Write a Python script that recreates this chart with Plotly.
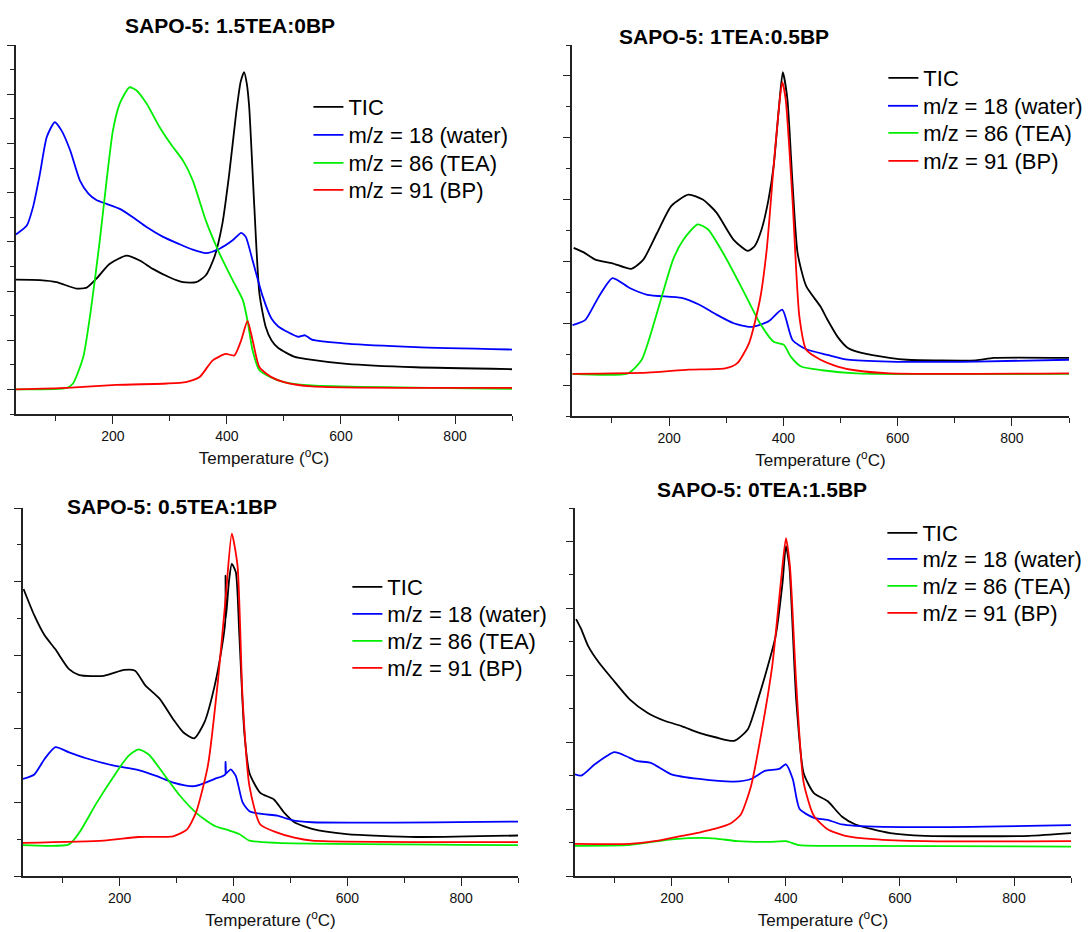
import plotly.graph_objects as go

# ---------------- data (arbitrary intensity units) -------------
series_names = ["TIC", "m/z = 18 (water)", "m/z = 86 (TEA)", "m/z = 91 (BP)"]
titles = ["SAPO-5: 1.5TEA:0BP", "SAPO-5: 1TEA:0.5BP", "SAPO-5: 0.5TEA:1BP", "SAPO-5: 0TEA:1.5BP"]
x_tick_step = 200
x_minor_step = 100
x_title = "Temperature (<sup>o</sup>C)"

# Panel A : 1.5TEA:0BP
a_tic_T = [30, 72, 101, 136, 154, 171, 194, 224, 247, 270, 299, 323, 346, 363, 378, 392, 404, 416, 424, 430, 435, 439, 448, 457, 468, 478, 490, 519, 537, 610, 731, 900]
a_tic_v = [2.23, 2.22, 2.18, 2.05, 2.07, 2.25, 2.55, 2.72, 2.62, 2.45, 2.28, 2.18, 2.18, 2.32, 2.69, 3.37, 4.38, 5.6, 6.25, 6.45, 6.2, 5.74, 3.71, 1.94, 1.27, 1.0, 0.84, 0.66, 0.62, 0.52, 0.45, 0.41]
a_h2o_T = [30, 49, 60, 72, 84, 98, 110, 125, 142, 157, 171, 189, 212, 235, 259, 288, 317, 340, 363, 387, 410, 425, 433, 445, 463, 478, 490, 525, 537, 549, 610, 731, 900]
a_h2o_v = [3.15, 3.33, 3.71, 4.38, 5.13, 5.43, 5.26, 4.86, 4.25, 3.98, 3.85, 3.77, 3.67, 3.5, 3.3, 3.1, 2.95, 2.84, 2.77, 2.86, 3.03, 3.18, 3.1, 2.62, 1.88, 1.44, 1.28, 1.07, 1.1, 1.01, 0.93, 0.86, 0.81]
a_tea_T = [30, 119, 130, 148, 162, 177, 189, 200, 212, 229, 241, 259, 282, 305, 323, 340, 363, 387, 410, 428, 436, 445, 457, 478, 500, 549, 900]
a_tea_v = [0.0, 0.03, 0.12, 0.66, 1.67, 3.03, 4.25, 5.26, 5.81, 6.14, 6.08, 5.81, 5.33, 4.93, 4.65, 4.25, 3.43, 2.76, 2.22, 1.81, 1.4, 0.79, 0.39, 0.24, 0.15, 0.08, 0.01]
a_bp_T = [30, 119, 206, 294, 328, 352, 375, 398, 413, 425, 436, 445, 457, 478, 500, 549, 900]
a_bp_v = [0.0, 0.03, 0.09, 0.12, 0.15, 0.25, 0.59, 0.72, 0.69, 1.0, 1.39, 1.0, 0.45, 0.25, 0.15, 0.06, 0.03]

# Panel B : 1TEA:0.5BP
b_tic_T = [33, 50, 71, 101, 134, 155, 179, 204, 234, 259, 283, 313, 338, 350, 362, 374, 383, 392, 399, 407, 416, 425, 440, 465, 477, 495, 513, 537, 586, 616, 737, 768, 900]
b_tic_v = [2.22, 2.15, 2.03, 1.97, 1.88, 2.03, 2.46, 2.9, 3.08, 3.0, 2.79, 2.35, 2.17, 2.25, 2.52, 3.0, 3.54, 4.46, 5.06, 4.63, 3.27, 2.13, 1.6, 1.27, 1.06, 0.78, 0.6, 0.52, 0.44, 0.41, 0.40, 0.44, 0.44]
b_h2o_T = [31, 53, 77, 101, 131, 162, 222, 253, 283, 313, 343, 374, 398, 416, 440, 477, 513, 586, 737, 900]
b_h2o_v = [0.97, 1.05, 1.43, 1.73, 1.57, 1.46, 1.41, 1.3, 1.14, 1.0, 0.94, 1.03, 1.22, 0.73, 0.58, 0.49, 0.41, 0.38, 0.38, 0.41]
b_tea_T = [31, 128, 152, 177, 207, 225, 250, 268, 298, 329, 359, 383, 401, 413, 431, 468, 528, 900]
b_tea_v = [0.18, 0.19, 0.41, 1.11, 2.03, 2.35, 2.6, 2.52, 2.08, 1.54, 1.0, 0.70, 0.65, 0.46, 0.3, 0.24, 0.19, 0.18]
b_bp_T = [31, 162, 234, 298, 319, 340, 359, 371, 383, 392, 398, 404, 416, 428, 440, 465, 495, 525, 586, 900]
b_bp_v = [0.18, 0.2, 0.25, 0.27, 0.35, 0.68, 1.38, 2.2, 3.54, 4.46, 4.9, 4.63, 3.0, 1.11, 0.57, 0.41, 0.30, 0.24, 0.19, 0.19]

# Panel C : 0.5TEA:1BP
c_tic_T = [31, 50, 68, 87, 111, 129, 172, 208, 227, 245, 270, 294, 312, 331, 349, 367, 380, 385.5, 386, 386.5, 392, 397, 404, 410, 419, 428, 447, 471, 489, 507, 538, 599, 721, 900]
c_tic_v = [3.9, 3.54, 3.27, 3.08, 2.81, 2.73, 2.72, 2.8, 2.79, 2.59, 2.41, 2.13, 1.95, 1.87, 2.09, 2.59, 3.13, 3.46, 4.08, 3.5, 4.0, 4.24, 4.13, 3.31, 1.95, 1.4, 1.13, 1.04, 0.86, 0.73, 0.64, 0.57, 0.53, 0.55]
c_h2o_T = [30, 50, 68, 87, 111, 141, 190, 233, 264, 294, 331, 367, 385.5, 386, 386.5, 395, 404, 416, 428, 453, 477, 502, 538, 900]
c_h2o_v = [1.32, 1.38, 1.59, 1.75, 1.68, 1.6, 1.5, 1.44, 1.36, 1.27, 1.22, 1.32, 1.38, 1.55, 1.39, 1.45, 1.36, 1.0, 0.88, 0.84, 0.82, 0.76, 0.73, 0.74]
c_tea_T = [30, 111, 129, 160, 190, 215, 233, 251, 276, 306, 337, 367, 392, 410, 428, 477, 900]
c_tea_v = [0.42, 0.43, 0.59, 1.0, 1.36, 1.63, 1.72, 1.65, 1.4, 1.09, 0.84, 0.68, 0.62, 0.57, 0.48, 0.45, 0.42]
c_bp_T = [30, 172, 233, 294, 318, 334, 355, 373, 386, 397, 407, 416, 428, 447, 477, 507, 538, 900]
c_bp_v = [0.45, 0.48, 0.53, 0.54, 0.63, 0.86, 1.5, 2.68, 3.76, 4.65, 4.22, 2.4, 1.22, 0.7, 0.59, 0.52, 0.48, 0.46]

# Panel D : 0TEA:1.5BP
d_tic_T = [32, 41, 53, 72, 96, 126, 157, 187, 217, 248, 278, 309, 333, 351, 370, 382, 394, 400, 406, 418, 431, 449, 473, 498, 522, 583, 644, 826, 900]
d_tic_v = [3.84, 3.69, 3.44, 3.19, 2.94, 2.64, 2.44, 2.32, 2.24, 2.14, 2.07, 2.02, 2.19, 2.64, 3.19, 3.59, 4.38, 4.93, 4.63, 2.64, 1.54, 1.24, 1.12, 0.89, 0.77, 0.64, 0.6, 0.6, 0.64]
d_h2o_T = [30, 41, 65, 99, 120, 138, 163, 199, 248, 309, 339, 363, 388, 400, 412, 424, 449, 473, 498, 522, 644, 900]
d_h2o_v = [1.52, 1.5, 1.67, 1.85, 1.79, 1.72, 1.69, 1.52, 1.45, 1.41, 1.45, 1.57, 1.6, 1.67, 1.45, 1.0, 0.87, 0.84, 0.77, 0.75, 0.73, 0.76]
d_tea_T = [30, 120, 157, 205, 248, 278, 315, 370, 400, 424, 522, 900]
d_tea_v = [0.45, 0.46, 0.5, 0.55, 0.57, 0.56, 0.52, 0.51, 0.52, 0.46, 0.45, 0.44]
d_bp_T = [30, 126, 169, 217, 248, 278, 302, 321, 339, 357, 376, 391, 400, 407, 418, 431, 449, 473, 504, 553, 644, 900]
d_bp_v = [0.48, 0.48, 0.52, 0.6, 0.65, 0.71, 0.78, 0.92, 1.35, 2.14, 3.14, 4.38, 5.05, 4.63, 2.89, 1.4, 0.9, 0.7, 0.6, 0.55, 0.52, 0.52]

panels = [
    [(a_tic_T, a_tic_v), (a_h2o_T, a_h2o_v), (a_tea_T, a_tea_v), (a_bp_T, a_bp_v)],
    [(b_tic_T, b_tic_v), (b_h2o_T, b_h2o_v), (b_tea_T, b_tea_v), (b_bp_T, b_bp_v)],
    [(c_tic_T, c_tic_v), (c_h2o_T, c_h2o_v), (c_tea_T, c_tea_v), (c_bp_T, c_bp_v)],
    [(d_tic_T, d_tic_v), (d_h2o_T, d_h2o_v), (d_tea_T, d_tea_v), (d_bp_T, d_bp_v)],
]
x_range = [30, 900]
y_ranges = [[-0.5, 7.0], [-0.5, 5.5], [0, 5], [0, 5.5]]

# ---------------- layout / styling ----------------
W, H = 1088, 932
FONT = "Arial, Liberation Sans, sans-serif"
colors = ["#000000", "#0000ff", "#00ee00", "#ff0000"]
AX = "#222222"

# plot boxes in pixels: (left, right, top, bottom)
boxes = [(16, 513, 45, 414), (573, 1071, 45, 416), (23, 519, 508, 876), (576, 1073, 508, 876)]
# legend text start x and row-centre y's in pixels
legend_x = [349, 925, 388, 924]
legend_rows = [[107, 135, 163, 190], [78, 106, 133, 161], [587, 614, 641, 668], [533, 559, 586, 613]]
# title centre in pixels
title_pos = [(230, 25), (725, 37), (172, 506), (763, 489)]

fig = go.Figure()
for p in range(4):
    xa = "x" if p == 0 else f"x{p+1}"
    ya = "y" if p == 0 else f"y{p+1}"
    for s in range(4):
        T, v = panels[p][s]
        k = p * 4 + s + 1
        lg = "legend" if k == 1 else f"legend{k}"
        fig.add_trace(go.Scatter(
            x=T, y=v, mode="lines", name=series_names[s],
            line=dict(color=colors[s], width=1.8, shape="spline", smoothing=0.6),
            xaxis=xa, yaxis=ya, legend=lg, showlegend=True,
        ))

layout = dict(
    width=W, height=H, margin=dict(l=0, r=0, t=0, b=0),
    paper_bgcolor="white", plot_bgcolor="white",
    font=dict(family=FONT, color="#000"),
    annotations=[],
)
for p in range(4):
    l, r, t, b = boxes[p]
    xk = "xaxis" if p == 0 else f"xaxis{p+1}"
    yk = "yaxis" if p == 0 else f"yaxis{p+1}"
    ya = "y" if p == 0 else f"y{p+1}"
    xa = "x" if p == 0 else f"x{p+1}"
    layout[xk] = dict(
        domain=[l / W, r / W], anchor=ya, range=x_range,
        showline=True, linecolor=AX, linewidth=1.6, mirror=False,
        showgrid=False, zeroline=False,
        ticks="outside", ticklen=8, tickwidth=1.4, tickcolor=AX,
        tick0=0, dtick=x_tick_step, tickfont=dict(size=14, family=FONT, color="#111"),
        minor=dict(ticks="outside", ticklen=5, tickwidth=1.4, tickcolor=AX, dtick=x_minor_step, showgrid=False),
        title=dict(text=x_title, font=dict(size=17, family=FONT, color="#111"), standoff=10),
    )
    layout[yk] = dict(
        domain=[1 - b / H, 1 - t / H], anchor=xa, range=y_ranges[p],
        showline=True, linecolor=AX, linewidth=1.6,
        showgrid=False, zeroline=False, showticklabels=False,
        ticks="outside", ticklen=7, tickwidth=1.4, tickcolor=AX,
        tick0=0, dtick=1,
        minor=dict(ticks="outside", ticklen=4, tickwidth=1.4, tickcolor=AX, dtick=0.5, showgrid=False),
    )
    for s in range(4):
        k = p * 4 + s + 1
        lk = "legend" if k == 1 else f"legend{k}"
        layout[lk] = dict(
            x=(legend_x[p] - 40) / W, y=1 - legend_rows[p][s] / H,
            xanchor="left", yanchor="middle",
            bgcolor="rgba(0,0,0,0)", borderwidth=0,
            font=dict(size=22, family=FONT, color="#000"),
            itemwidth=30,
        )
    tx, ty = title_pos[p]
    layout["annotations"].append(dict(
        text=f"<b>{titles[p]}</b>", x=tx / W, y=1 - ty / H, xref="paper", yref="paper",
        xanchor="center", yanchor="middle", showarrow=False,
        font=dict(size=21, family=FONT, color="#000"),
    ))

fig.update_layout(**layout)
fig.write_html("out.html")
